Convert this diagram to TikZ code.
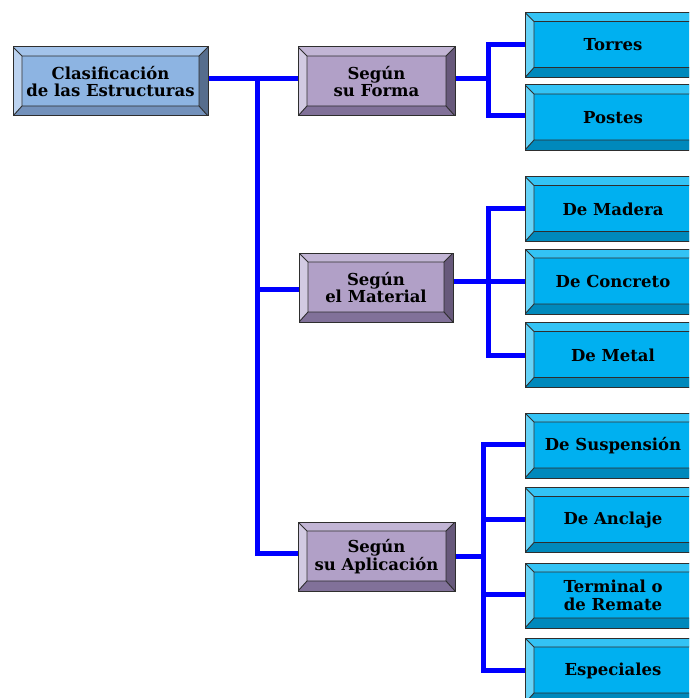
\documentclass[tikz,border=0pt]{standalone}
\usepackage{fontspec}
\newfontfamily\boxfont{DejaVu Serif}[BoldFont={DejaVu Serif Bold}]
\definecolor{edge}{HTML}{2E2E2E}
\definecolor{link}{HTML}{0000FF}
\definecolor{rootface}{HTML}{8DB4E2}
\definecolor{roottop}{HTML}{A3C3EA}
\definecolor{rootleft}{HTML}{BCD3F0}
\definecolor{rootbottom}{HTML}{7391BB}
\definecolor{rootright}{HTML}{566D8D}
\definecolor{midface}{HTML}{B1A0C7}
\definecolor{midtop}{HTML}{C2B5D5}
\definecolor{midleft}{HTML}{D2CAE2}
\definecolor{midbottom}{HTML}{817199}
\definecolor{midright}{HTML}{67597B}
\definecolor{leafface}{HTML}{00B0F0}
\definecolor{leaftop}{HTML}{33C3F5}
\definecolor{leafleft}{HTML}{66D3F8}
\definecolor{leafbottom}{HTML}{0089BC}
\definecolor{leafright}{HTML}{006E96}
\newcommand\bevelpic[1]{%
  \coordinate (NW) at (path picture bounding box.north west);
  \coordinate (NE) at (path picture bounding box.north east);
  \coordinate (SW) at (path picture bounding box.south west);
  \coordinate (SE) at (path picture bounding box.south east);
  \coordinate (iNW) at ([shift={(9,9)}]NW);
  \coordinate (iNE) at ([shift={(-9,9)}]NE);
  \coordinate (iSW) at ([shift={(9,-10)}]SW);
  \coordinate (iSE) at ([shift={(-9,-10)}]SE);
  \fill[#1top] (NW) -- (NE) -- (iNE) -- (iNW) -- cycle;
  \fill[#1left] (NW) -- (iNW) -- (iSW) -- (SW) -- cycle;
  \fill[#1bottom] (SW) -- (iSW) -- (iSE) -- (SE) -- cycle;
  \fill[#1right] (NE) -- (SE) -- (iSE) -- (iNE) -- cycle;
  \draw[edge, line width=0.9pt] (iNW) rectangle (iSE)
    (NW) -- (iNW) (NE) -- (iNE) (SW) -- (iSW) (SE) -- (iSE);
}
\tikzset{
  bevel/.style={rectangle, inner sep=0pt, draw=edge, line width=1pt,
    fill=#1face, align=center, text=black,
    font=\boxfont\bfseries\fontsize{16.5}{17.5}\selectfont,
    path picture={\bevelpic{#1}}},
  rootbox/.style={bevel=root, minimum width=195, minimum height=69},
  midbox/.style={bevel=mid, minimum width=157, minimum height=69},
  leafbox/.style={bevel=leaf, minimum width=176, minimum height=65},
  wire/.style={draw=link, line width=5pt},
}
\begin{document}
\begin{tikzpicture}[x=1pt, y=-1pt]
\useasboundingbox (0,0) rectangle (689,698);
\clip (0,0) rectangle (689,698);
\fill[white] (0,0) rectangle (689,698);

% junction points of the connectors
\coordinate (trunk) at (257,79);
\coordinate (tm) at (257,289);
\coordinate (ta) at (257,553);
\coordinate (jf) at (488,79);
\coordinate (jf1) at (488,45);
\coordinate (jf2) at (488,116);
\coordinate (jm) at (488,281);
\coordinate (jm1) at (488,208);
\coordinate (jm3) at (488,355);
\coordinate (ja) at (483,556);
\coordinate (ja1) at (483,444);
\coordinate (ja2) at (483,519);
\coordinate (ja3) at (483,594);
\coordinate (ja4) at (483,670);

\node[rootbox] (root) at (110.5,81.5) {Clasificación\\de las Estructuras};
\node[midbox] (forma) at (376.5,81.5) {Según\\su Forma};
\node[midbox, minimum width=154] (material) at (376,287.5) {Según\\el Material};
\node[midbox] (aplic) at (376.5,556.5) {Según\\su Aplicación};

\node[leafbox] (torres) at (613,45) {Torres};
\node[leafbox] (postes) at (613,117.5) {Postes};
\node[leafbox] (madera) at (613,209) {De Madera};
\node[leafbox] (concreto) at (613,281.5) {De Concreto};
\node[leafbox] (metal) at (613,355) {De Metal};
\node[leafbox] (susp) at (613,445.5) {De Suspensión};
\node[leafbox] (anclaje) at (613,520) {De Anclaje};
\node[leafbox] (terminal) at (613,595.5) {Terminal o\\de Remate};
\node[leafbox] (especiales) at (613,670.5) {Especiales};

\draw[wire] (trunk -| root.east) -- (trunk -| forma.west);
\draw[wire] (trunk) -- (ta) -- (ta -| aplic.west);
\draw[wire] (tm) -- (tm -| material.west);

\draw[wire] (jf -| forma.east) -- (jf);
\draw[wire] (jf1 -| torres.west) -- (jf1) -- (jf2) -- (jf2 -| postes.west);

\draw[wire] (jm -| material.east) -- (jm -| concreto.west);
\draw[wire] (jm1 -| madera.west) -- (jm1) -- (jm3) -- (jm3 -| metal.west);

\draw[wire] (ja -| aplic.east) -- (ja);
\draw[wire] (ja1 -| susp.west) -- (ja1) -- (ja4) -- (ja4 -| especiales.west);
\draw[wire] (ja2) -- (ja2 -| anclaje.west);
\draw[wire] (ja3) -- (ja3 -| terminal.west);
\end{tikzpicture}
\end{document}
